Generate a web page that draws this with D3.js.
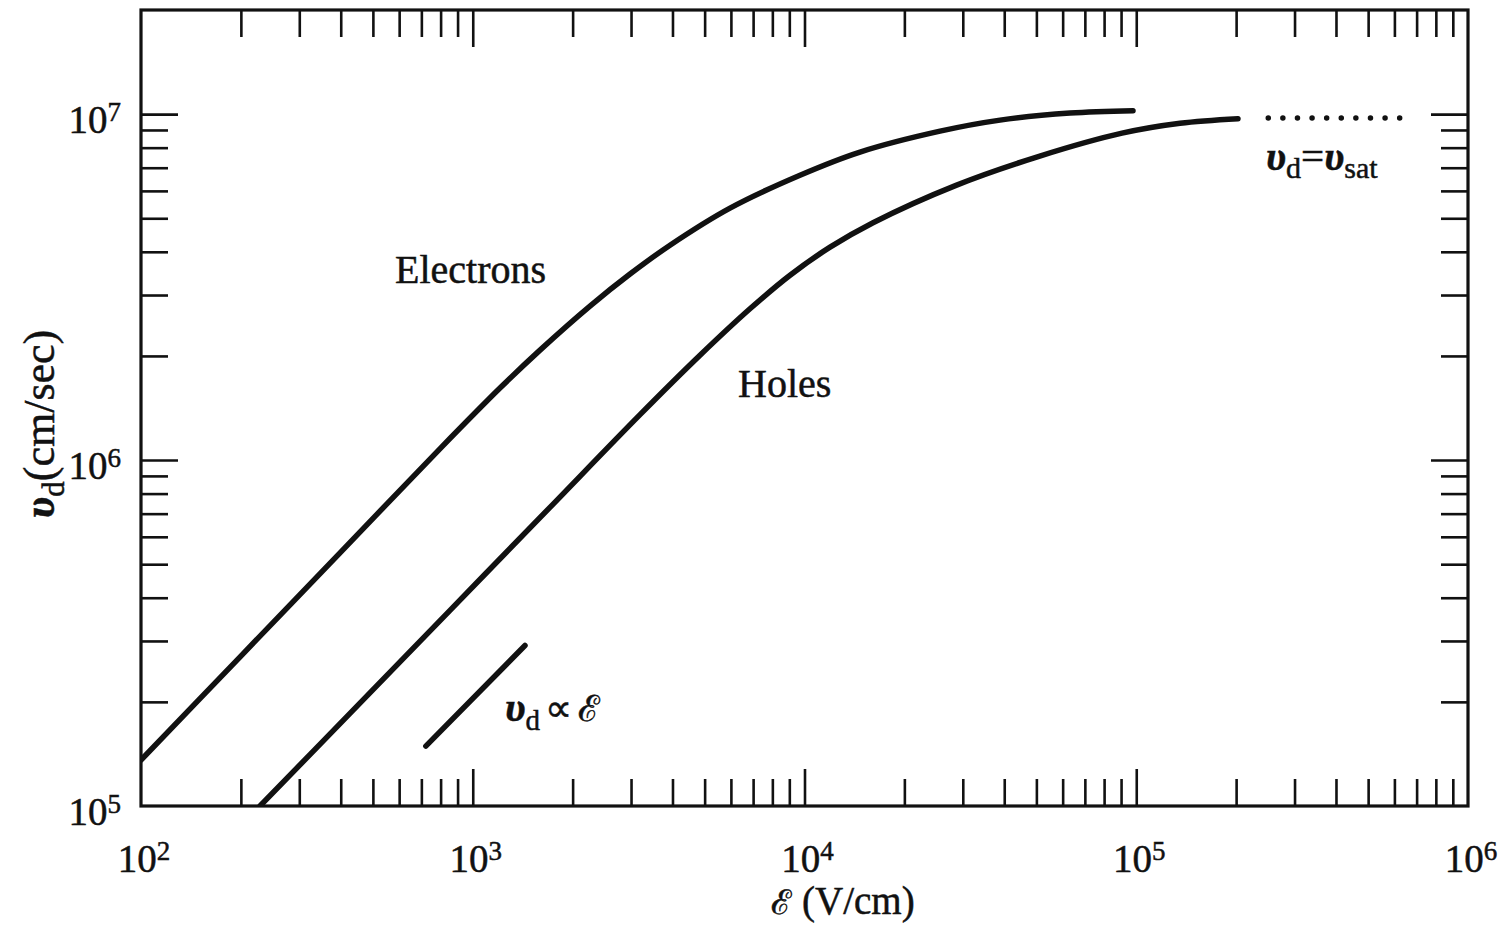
<!DOCTYPE html>
<html><head><meta charset="utf-8">
<script src="https://cdn.jsdelivr.net/npm/d3@7"></script>
<style>
body{margin:0;background:#fff}
svg{display:block}
text{font-family:"Liberation Serif","Times New Roman",serif;fill:#111;stroke:#111;stroke-width:0.5px}
</style>
</head><body>
<svg id="c" width="1511" height="925"></svg>
<script>
// ---- data ----
const electronE = [100, 200, 400, 800, 1208, 1595, 2256, 2979, 3932, 5963, 9692, 14700, 25620, 38850, 63150, 97770];
const electronV = [1.358e5, 2.713e5, 5.42e5, 1.083e6, 1.615e6, 2.079e6, 2.787e6, 3.449e6, 4.18e6, 5.35e6, 6.66e6, 7.77e6, 8.93e6, 9.61e6, 1.007e7, 1.023e7];
const holeE = [228.4, 426.6, 854, 1709, 3193, 4842, 6849, 9045, 11940, 16090, 28620, 50920, 90600, 135500, 202600];
const holeV = [1.0e5, 1.853e5, 3.679e5, 7.30e5, 1.353e6, 2.009e6, 2.737e6, 3.423e6, 4.125e6, 4.855e6, 6.226e6, 7.551e6, 8.81e6, 9.41e6, 9.70e6];
const propE = [722, 1437];
const propV = [1.49e5, 2.91e5];
const satE = [2.5e5, 6.3e5];
const satV = [9.75e6, 9.75e6];
const xMajor = [1e2, 1e3, 1e4, 1e5, 1e6];
const xExp = ["2", "3", "4", "5", "6"];
const yMajor = [1e5, 1e6, 1e7];
const yExp = ["5", "6", "7"];
const minorMult = [2, 3, 4, 5, 6, 7, 8, 9];

// ---- layout ----
const L = 141, R = 1468, T = 10, B = 806;
const svg = d3.select("#c");
const x = d3.scaleLog().domain([1e2, 1e6]).range([L, R]);
const y = d3.scaleLog().domain([1e5, 2e7]).range([B, T]);

const xMinor = [];
[1e2, 1e3, 1e4, 1e5].forEach(d => minorMult.forEach(m => xMinor.push(d * m)));
const yMinor = [];
[1e5, 1e6].forEach(d => minorMult.forEach(m => yMinor.push(d * m)));
const xMajIn = xMajor.slice(1, -1);
const yMajIn = yMajor.slice(1);

function styleAxis(g) {
  g.select(".domain").remove();
  g.selectAll(".tick line").attr("stroke", "#111").attr("stroke-width", 2.6);
  g.selectAll(".tick text").remove();
}
const minLen = 27, majLen = 37;
[[d3.axisBottom, B], [d3.axisTop, T]].forEach(([ax, pos]) => {
  svg.append("g").attr("transform", `translate(0,${pos})`)
    .call(ax(x).tickValues(xMinor).tickSize(-minLen).tickSizeOuter(0).tickFormat("")).call(styleAxis);
  svg.append("g").attr("transform", `translate(0,${pos})`)
    .call(ax(x).tickValues(xMajIn).tickSize(-majLen).tickSizeOuter(0).tickFormat("")).call(styleAxis);
});
[[d3.axisLeft, L], [d3.axisRight, R]].forEach(([ax, pos]) => {
  svg.append("g").attr("transform", `translate(${pos},0)`)
    .call(ax(y).tickValues(yMinor).tickSize(-minLen).tickSizeOuter(0).tickFormat("")).call(styleAxis);
  svg.append("g").attr("transform", `translate(${pos},0)`)
    .call(ax(y).tickValues(yMajIn).tickSize(-majLen).tickSizeOuter(0).tickFormat("")).call(styleAxis);
});

// frame
svg.append("rect").attr("x", L).attr("y", T).attr("width", R - L).attr("height", B - T)
  .attr("fill", "none").attr("stroke", "#111").attr("stroke-width", 3.2);

// tick labels
xMajor.forEach((d, i) => {
  const t = svg.append("text").attr("x", x(d) + 3).attr("y", 872).attr("text-anchor", "middle")
    .style("font-size", "39px");
  t.append("tspan").text("10");
  t.append("tspan").attr("dy", -12).style("font-size", "27px").text(xExp[i]);
});
yMajor.forEach((d, i) => {
  const t = svg.append("text").attr("x", 121).attr("y", y(d) + 19).attr("text-anchor", "end")
    .style("font-size", "39px");
  t.append("tspan").text("10");
  t.append("tspan").attr("dy", -12).style("font-size", "27px").text(yExp[i]);
});

// curves
svg.append("clipPath").attr("id", "clip").append("rect")
  .attr("x", L).attr("y", T).attr("width", R - L).attr("height", B - T);
const smooth = d3.line().x(d => x(d[0])).y(d => y(d[1])).curve(d3.curveCatmullRom.alpha(0.5));
const straight = d3.line().x(d => x(d[0])).y(d => y(d[1]));
const g = svg.append("g").attr("clip-path", "url(#clip)");
g.append("path").datum(d3.zip(electronE, electronV)).attr("d", smooth)
  .attr("fill", "none").attr("stroke", "#111").attr("stroke-width", 5.5).attr("stroke-linecap", "round");
g.append("path").datum(d3.zip(holeE, holeV)).attr("d", smooth)
  .attr("fill", "none").attr("stroke", "#111").attr("stroke-width", 5.5).attr("stroke-linecap", "round");
g.append("path").datum(d3.zip(propE, propV)).attr("d", straight)
  .attr("fill", "none").attr("stroke", "#111").attr("stroke-width", 5.5).attr("stroke-linecap", "round");
g.append("path").datum(d3.zip(satE, satV)).attr("d", straight)
  .attr("fill", "none").attr("stroke", "#111").attr("stroke-width", 5.5)
  .attr("stroke-linecap", "round").attr("stroke-dasharray", "0 14.6");

// annotations
svg.append("text").attr("x", 395).attr("y", 283).style("font-size", "40px").text("Electrons");
svg.append("text").attr("x", 738).attr("y", 397).style("font-size", "40px").text("Holes");

const p = svg.append("text").attr("x", 505).attr("y", 721).style("font-size", "42px");
p.append("tspan").style("font-style", "italic").style("font-weight", "bold").text("υ");
p.append("tspan").attr("dy", 9).style("font-size", "29px").text("d");
p.append("tspan").attr("dy", -9).attr("dx", 5).style("font-size", "38px").text("∝");
p.append("tspan").attr("dx", 6).style("font-family", "DejaVu Serif").style("font-size", "36px").text("ℰ");

const s = svg.append("text").attr("x", 1266).attr("y", 170).style("font-size", "41px");
s.append("tspan").style("font-style", "italic").style("font-weight", "bold").text("υ");
s.append("tspan").attr("dy", 8).style("font-size", "30px").text("d");
s.append("tspan").attr("dy", -8).text("=");
s.append("tspan").style("font-style", "italic").style("font-weight", "bold").text("υ");
s.append("tspan").attr("dy", 8).style("font-size", "30px").text("sat");

// axis titles
const xt = svg.append("text").attr("x", 843).attr("y", 914).attr("text-anchor", "middle").style("font-size", "39px");
xt.append("tspan").style("font-family", "DejaVu Serif").style("font-size", "34px").text("ℰ");
xt.append("tspan").text(" (V/cm)");

const yt = svg.append("text").attr("transform", "translate(54,424) rotate(-90)")
  .attr("text-anchor", "middle").style("font-size", "44px");
yt.append("tspan").style("font-style", "italic").style("font-weight", "bold").text("υ");
yt.append("tspan").attr("dy", 10).style("font-size", "31px").text("d");
yt.append("tspan").attr("dy", -10).text("(cm/sec)");
</script>
</body></html>
